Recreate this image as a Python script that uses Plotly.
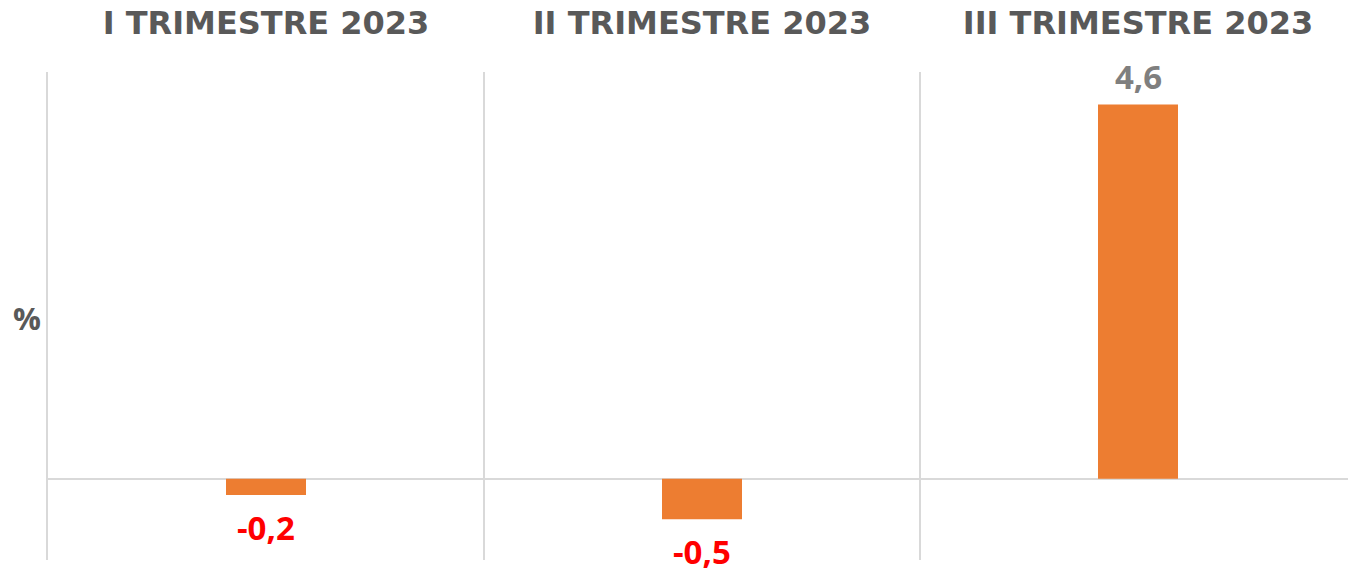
import plotly.graph_objects as go

categories = ["I TRIMESTRE 2023", "II TRIMESTRE 2023", "III TRIMESTRE 2023"]
values = [-0.2, -0.5, 4.6]
labels = ["-0,2", "-0,5", "4,6"]
label_colors = ["#FF0000", "#FF0000", "#7F7F7F"]

W, H = 1348, 573
ML, MT, MB = 48, 72, 13
PW = W - ML
PH = H - MT - MB

fig = go.Figure()
fig.add_trace(go.Bar(
    x=categories, y=values,
    marker=dict(color="#ED7D31", line=dict(width=0)),
    width=80 / 436,
    hoverinfo="skip",
))

for c, v, t, col in zip(categories, values, labels, label_colors):
    fig.add_annotation(
        x=c, y=v, xref="x", yref="y", text="<b>%s</b>" % t, showarrow=False,
        yanchor="top" if v < 0 else "bottom",
        yshift=-8 if v < 0 else 4,
        font=dict(family="Open Sans", size=33, color=col),
    )

fig.add_annotation(
    x=(27 - ML) / PW, y=(H - MB - 318) / PH, xref="paper", yref="paper",
    text="<b>%</b>", showarrow=False, xanchor="center", yanchor="middle",
    font=dict(family="Open Sans", size=31, color="#595959"),
)

fig.update_layout(
    width=W, height=H,
    margin=dict(l=ML, r=0, t=MT, b=MB),
    paper_bgcolor="white", plot_bgcolor="white",
    showlegend=False,
    xaxis=dict(
        side="top", type="category", range=[-0.5, -0.5 + PW / 436],
        tickson="boundaries", showgrid=True, gridcolor="#D9D9D9", gridwidth=2,
        ticks="", showline=False, zeroline=False, automargin=False,
        tickfont=dict(family="DejaVu Sans", size=32, color="#595959", weight="bold"),
        ticklabelstandoff=31,
    ),
    yaxis=dict(
        range=[-1, 5], showgrid=False, showticklabels=False, ticks="",
        zeroline=True, zerolinecolor="#D9D9D9", zerolinewidth=2, automargin=False,
        showline=True, linecolor="#D9D9D9", linewidth=2,
    ),
)

fig.write_html(
    "out.html",
    config={"displayModeBar": False},
    post_script="document.body.style.margin='0';document.body.style.overflow='hidden';",
)
